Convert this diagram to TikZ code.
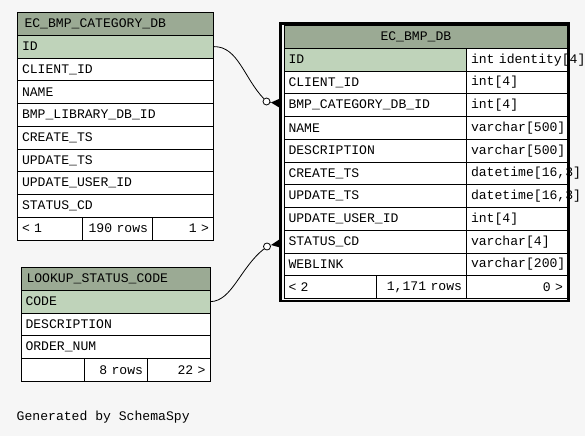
\documentclass[tikz,border=0pt]{standalone}
\usepackage{fontspec}
\usepackage{xcolor}
\newfontfamily\dbmono{Liberation Mono}
\definecolor{spybg}{RGB}{246,246,246}
\definecolor{spyhead}{RGB}{155,170,148}
\definecolor{spykey}{RGB}{191,211,186}
\usepackage{tikz}
\usetikzlibrary{positioning}

\tikzset{
  dbtext/.style={font=\dbmono\fontsize{13.1pt}{15pt}\selectfont},
  dbcell/.style={dbtext, draw=black, line width=1pt, fill=white, anchor=north west,
    minimum height=22.75pt, inner ysep=0pt, inner xsep=4.5pt, align=left},
  dbhead/.style={dbcell, fill=spyhead},
  dbkey/.style={dbcell, fill=spykey},
  dbfoot/.style={dbcell, align=right},
  endcirc/.style={circle, draw=black, fill=white, line width=0.8pt, inner sep=0pt, minimum size=7pt},
  link/.style={draw=black, line width=0.8pt},
}

\begin{document}
\begin{tikzpicture}[x=1pt, y=-1pt]
  \fill[spybg] (0,0) rectangle (585,436);
  \useasboundingbox (0,0) rectangle (585,436);

  % EC_BMP_CATEGORY_DB
  \node[dbhead, text width=182pt, inner xsep=7pt] (cat-head) at (17,12) {EC\_BMP\_CATEGORY\_DB};
  \node[dbkey, text width=187pt] (cat-id) at (17,34.75) {ID};
  \node[dbcell, text width=187pt] (cat-client) at (17,57.5) {CLIENT\_ID};
  \node[dbcell, text width=187pt] (cat-name) at (17,80.25) {NAME};
  \node[dbcell, text width=187pt] (cat-lib) at (17,103) {BMP\_LIBRARY\_DB\_ID};
  \node[dbcell, text width=187pt] (cat-create) at (17,125.75) {CREATE\_TS};
  \node[dbcell, text width=187pt] (cat-update) at (17,148.5) {UPDATE\_TS};
  \node[dbcell, text width=187pt] (cat-user) at (17,171.25) {UPDATE\_USER\_ID};
  \node[dbcell, text width=187pt] (cat-status) at (17,194) {STATUS\_CD};
  \node[dbcell, text width=56pt] (cat-parents) at (17,216.75) {< 1};
  \node[dbfoot, text width=61pt] (cat-rows) at (82,216.75) {190 rows};
  \node[dbfoot, text width=52pt] (cat-children) at (152,216.75) {1 >};

  % EC_BMP_DB
  \node[dbhead, text width=274.5pt] (bmp-head) at (283.5,25) {\hspace*{92pt}EC\_BMP\_DB};
  \node[dbkey, text width=173.5pt] (bmp-id) at (283.5,47.75) {ID};
  \node[dbcell, text width=173.5pt] (bmp-client) at (283.5,70.5) {CLIENT\_ID};
  \node[dbcell, text width=173.5pt] (bmp-catid) at (283.5,93.25) {BMP\_CATEGORY\_DB\_ID};
  \node[dbcell, text width=173.5pt] (bmp-name) at (283.5,116) {NAME};
  \node[dbcell, text width=173.5pt] (bmp-desc) at (283.5,138.75) {DESCRIPTION};
  \node[dbcell, text width=173.5pt] (bmp-create) at (283.5,161.5) {CREATE\_TS};
  \node[dbcell, text width=173.5pt] (bmp-update) at (283.5,184.25) {UPDATE\_TS};
  \node[dbcell, text width=173.5pt] (bmp-user) at (283.5,207) {UPDATE\_USER\_ID};
  \node[dbcell, text width=173.5pt] (bmp-status) at (283.5,229.75) {STATUS\_CD};
  \node[dbcell, text width=173.5pt] (bmp-web) at (283.5,252.5) {WEBLINK};
  \node[dbcell, text width=92pt] (bmp-id-t) at (466,47.75) {\mbox{int identity[4]}};
  \node[dbcell, text width=92pt] (bmp-client-t) at (466,70.5) {int[4]};
  \node[dbcell, text width=92pt] (bmp-catid-t) at (466,93.25) {int[4]};
  \node[dbcell, text width=92pt] (bmp-name-t) at (466,116) {varchar[500]};
  \node[dbcell, text width=92pt] (bmp-desc-t) at (466,138.75) {varchar[500]};
  \node[dbcell, text width=92pt] (bmp-create-t) at (466,161.5) {datetime[16,3]};
  \node[dbcell, text width=92pt] (bmp-update-t) at (466,184.25) {datetime[16,3]};
  \node[dbcell, text width=92pt] (bmp-user-t) at (466,207) {int[4]};
  \node[dbcell, text width=92pt] (bmp-status-t) at (466,229.75) {varchar[4]};
  \node[dbcell, text width=92pt] (bmp-web-t) at (466,252.5) {varchar[200]};
  \node[dbcell, text width=83.5pt] (bmp-parents) at (283.5,275.25) {< 2};
  \node[dbfoot, text width=81pt] (bmp-rows) at (376,275.25) {\mbox{1,171 rows}};
  \node[dbfoot, text width=92pt] (bmp-children) at (466,275.25) {0 >};
  \draw[line width=2.5pt] (280.5,23.6) rectangle (568.5,300.8);

  % LOOKUP_STATUS_CODE
  \node[dbhead, text width=178pt, inner xsep=5.5pt] (lsc-head) at (20.5,267) {LOOKUP\_STATUS\_CODE};
  \node[dbkey, text width=180pt] (lsc-code) at (20.5,289.75) {CODE};
  \node[dbcell, text width=180pt] (lsc-desc) at (20.5,312.5) {DESCRIPTION};
  \node[dbcell, text width=180pt] (lsc-order) at (20.5,335.25) {ORDER\_NUM};
  \node[dbcell, text width=54.5pt] (lsc-parents) at (20.5,358) {};
  \node[dbfoot, text width=54pt] (lsc-rows) at (84,358) {8 rows};
  \node[dbfoot, text width=53.5pt] (lsc-children) at (147,358) {22 >};

  % relationships
  \node[endcirc] (c1) at (266.5,101.5) {};
  \node[endcirc] (c2) at (267,246.5) {};
  \coordinate (f1) at (271,102.5);
  \coordinate (f2) at (271,245);
  \draw[link] (cat-id.east) .. controls (238,46.4) and (244,78) .. (c1);
  \draw[link] (lsc-code.east) .. controls (232,301.1) and (240,268) .. (c2);
  \draw[link] (c1) -- (f1);
  \draw[link] (c2) -- (f2);
  \fill (f1) -- (280,98.5) -- (280,108) -- cycle;
  \fill (f2) -- (280,239) -- (280,247.5) -- cycle;

  \node[dbtext, anchor=west, inner sep=0pt] (gen) at (16.5,417) {Generated by SchemaSpy};
\end{tikzpicture}
\end{document}
